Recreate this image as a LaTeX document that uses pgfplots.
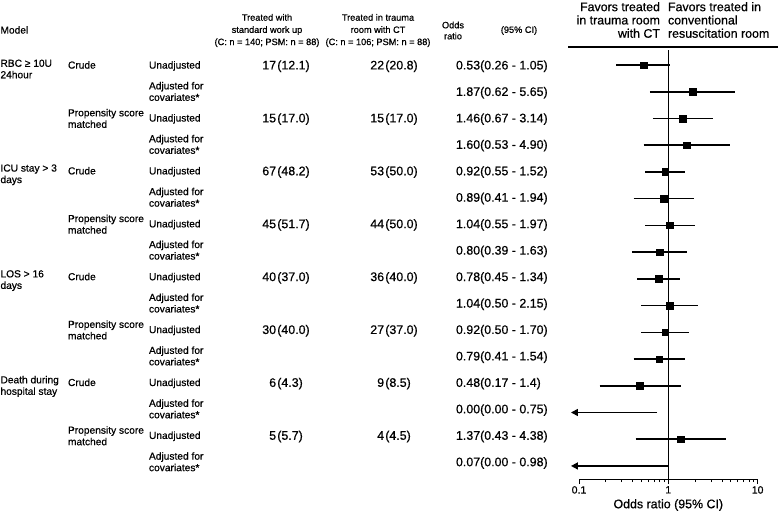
\documentclass[border=0pt]{standalone}
\usepackage{pgfplots}
\pgfplotsset{compat=1.18}
\usepackage{fontspec}
\setmainfont{Liberation Sans}[FakeBold=0.6, BoldFont={Liberation Sans}]
\usetikzlibrary{arrows.meta}

\newcommand{\fa}{\fontsize{10.2}{11.5}\selectfont}
\newcommand{\fb}{\fontsize{12.4}{13.3}\selectfont}
\newcommand{\fh}{\fontsize{9.2}{12.2}\selectfont}

\begin{document}
\bfseries
\begin{tikzpicture}
\path[use as bounding box] (0,0) rectangle (778pt,-512pt);
\begin{axis}[
  at={(579pt,-479pt)}, anchor=south west, scale only axis,
  width=178.6pt, height=432pt,
  xmode=log, xmin=0.1, xmax=10, ymin=-16.488, ymax=-0.3266,
  axis x line*=bottom, axis y line=none,
  tick align=outside,
  xtick={0.1,1,10}, xticklabels={0.1,1,10},
  minor xtick={0.2,0.3,0.4,0.5,0.6,0.7,0.8,0.9,2,3,4,5,6,7,8,9},
  major tick length=5pt, minor tick length=3pt,
  every tick/.style={black, line width=0.8pt},
  axis line style={black, line width=0.9pt},
  xticklabel style={font=\bfseries\fontsize{10.5}{12}\selectfont, inner sep=1pt, yshift=-1pt},
  clip=false,
]
% reference line at OR = 1
\addplot[black, line width=0.9pt] coordinates {(1,-0.45) (1,-16.488)};
% header rule
\draw[black, line width=1.3pt] (axis cs:0.0753,-0.3266) -- (axis cs:16.9,-0.3266);
% confidence intervals
\addplot[black, line width=1.6pt] coordinates {(0.26,-1) (1.05,-1)};
\addplot[black, line width=1.6pt] coordinates {(0.62,-2) (5.65,-2)};
\addplot[black, line width=1.6pt] coordinates {(0.67,-3) (3.14,-3)};
\addplot[black, line width=1.6pt] coordinates {(0.53,-4) (4.90,-4)};
\addplot[black, line width=1.6pt] coordinates {(0.55,-5) (1.52,-5)};
\addplot[black, line width=1.6pt] coordinates {(0.41,-6) (1.94,-6)};
\addplot[black, line width=1.6pt] coordinates {(0.55,-7) (1.97,-7)};
\addplot[black, line width=1.6pt] coordinates {(0.39,-8) (1.63,-8)};
\addplot[black, line width=1.6pt] coordinates {(0.45,-9) (1.34,-9)};
\addplot[black, line width=1.6pt] coordinates {(0.50,-10) (2.15,-10)};
\addplot[black, line width=1.6pt] coordinates {(0.50,-11) (1.70,-11)};
\addplot[black, line width=1.6pt] coordinates {(0.41,-12) (1.54,-12)};
\addplot[black, line width=1.6pt] coordinates {(0.17,-13) (1.4,-13)};
\addplot[black, line width=1.6pt, -{Triangle[length=7pt,width=7pt]}] coordinates {(0.75,-14) (0.0813,-14)};
\addplot[black, line width=1.6pt] coordinates {(0.43,-15) (4.38,-15)};
\addplot[black, line width=1.6pt, -{Triangle[length=7pt,width=7pt]}] coordinates {(0.98,-16) (0.0813,-16)};
% point estimates
\addplot[only marks, mark=square*, mark size=3.3pt, black] coordinates {
 (0.53,-1) (1.87,-2) (1.46,-3) (1.60,-4) (0.92,-5) (0.89,-6) (1.04,-7) (0.80,-8)
 (0.78,-9) (1.04,-10) (0.92,-11) (0.79,-12) (0.48,-13) (1.37,-15)};
\end{axis}
\node[font=\fb] at (668.3pt,-505pt) {Odds ratio (95\% CI)};

\begin{scope}[x=1pt, y=-1pt, every node/.style={inner sep=0pt, outer sep=0pt}]
% headers
\node[anchor=base west, font=\fa] at (0.5,33.6) {Model};
\node[align=center, font=\fh] at (267,30.5) {Treated with\\standard work up\\(C: n = 140; PSM: n = 88)};
\node[align=center, font=\fh] at (378,30.5) {Treated in trauma\\room with CT\\(C: n = 106; PSM: n = 88)};
\node[align=center, font=\fontsize{9.2}{11}\selectfont] at (453,30.5) {Odds\\ratio};
\node[font=\fh] at (519,30.5) {(95\% CI)};
\node[align=right, anchor=east, font=\fb] at (660,20) {Favors treated\\in trauma room\\with CT};
\node[align=left, anchor=west, font=\fb] at (668,20) {Favors treated in\\conventional\\resuscitation room};

% outcome labels
\node[align=left, anchor=west, font=\fa] at (0.5,69) {RBC ≥ 10U\\24hour};
\node[align=left, anchor=west, font=\fa] at (0.5,174.8) {ICU stay > 3\\days};
\node[align=left, anchor=west, font=\fa] at (0.5,280.6) {LOS > 16\\days};
\node[align=left, anchor=west, font=\fa] at (0.5,386.4) {Death during\\hospital stay};

% group labels
\foreach \k in {1,5,9,13} {
  \node[anchor=base west, font=\fa] at (68,{65+(\k-1)*26.45+3.6}) {Crude};
}
\foreach \k in {3,7,11,15} {
  \node[align=left, anchor=west, font=\fa] at (68,{65+(\k-1)*26.45+0.5}) {Propensity score\\matched};
}
% adjustment labels
\foreach \k in {1,3,5,7,9,11,13,15} {
  \node[anchor=base west, font=\fa] at (149,{65+(\k-1)*26.45+3.6}) {Unadjusted};
}
\foreach \k in {2,4,6,8,10,12,14,16} {
  \node[align=left, anchor=west, font=\fa] at (149,{65+(\k-1)*26.45}) {Adjusted for\\covariates*};
}
% counts
\foreach \k/\a/\b in {1/17/12.1, 3/15/17.0, 5/67/48.2, 7/45/51.7, 9/40/37.0, 11/30/40.0, 13/6/4.3, 15/5/5.7} {
  \node[anchor=base, font=\fb] at (286,{65+(\k-1)*26.45+4.45}) {\a\hspace{1.2pt}(\b)};
}
\foreach \k/\a/\b in {1/22/20.8, 3/15/17.0, 5/53/50.0, 7/44/50.0, 9/36/40.0, 11/27/37.0, 13/9/8.5, 15/4/4.5} {
  \node[anchor=base, font=\fb] at (394,{65+(\k-1)*26.45+4.45}) {\a\hspace{1.2pt}(\b)};
}
% odds ratios
\foreach \k/\t in {1/0.53(0.26 - 1.05), 2/1.87(0.62 - 5.65), 3/1.46(0.67 - 3.14), 4/1.60(0.53 - 4.90),
  5/0.92(0.55 - 1.52), 6/0.89(0.41 - 1.94), 7/1.04(0.55 - 1.97), 8/0.80(0.39 - 1.63),
  9/0.78(0.45 - 1.34), 10/1.04(0.50 - 2.15), 11/0.92(0.50 - 1.70), 12/0.79(0.41 - 1.54),
  13/0.48(0.17 - 1.4), 14/0.00(0.00 - 0.75), 15/1.37(0.43 - 4.38), 16/0.07(0.00 - 0.98)} {
  \node[anchor=base west, font=\fb] at (456,{65+(\k-1)*26.45+4.45}) {\t};
}
\end{scope}
\end{tikzpicture}
\end{document}
